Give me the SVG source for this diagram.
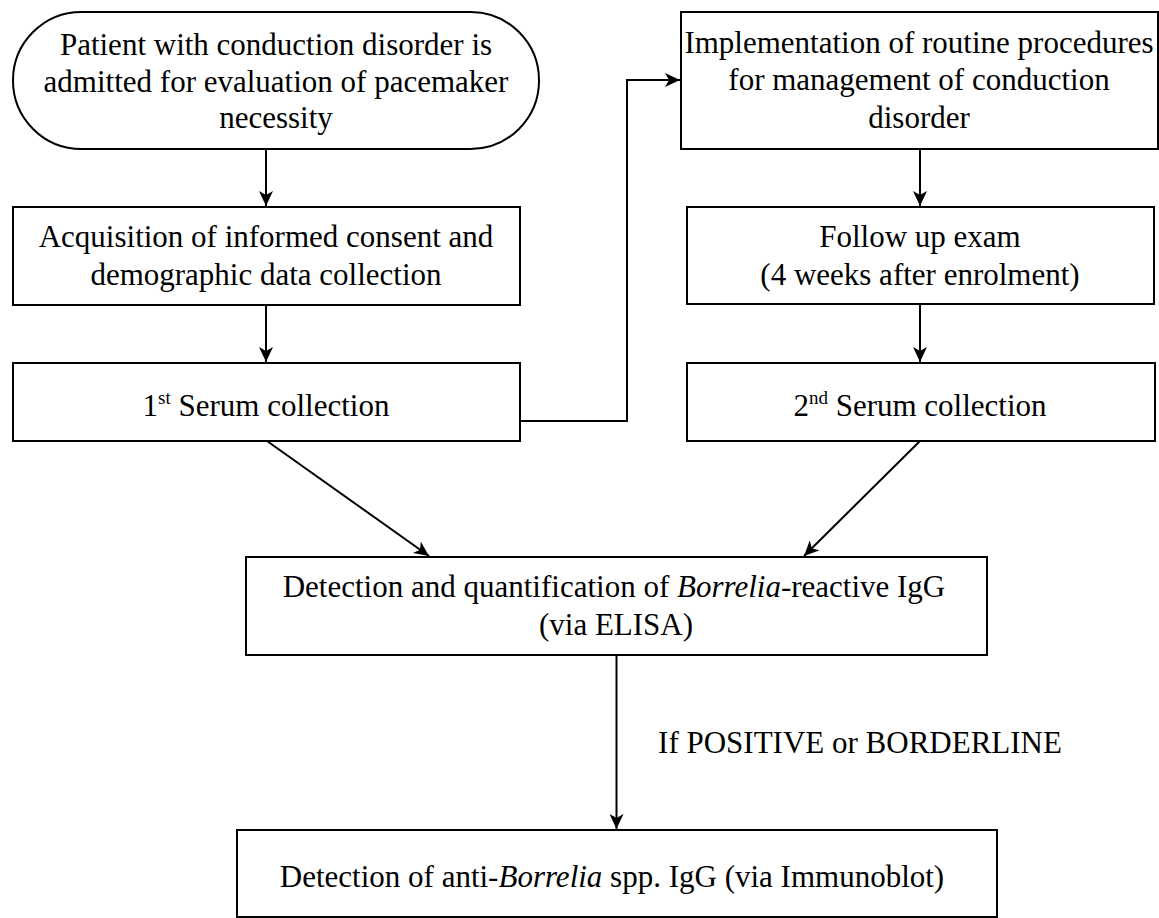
<svg xmlns="http://www.w3.org/2000/svg" width="1159" height="918" viewBox="0 0 1159 918">
<style>
.box{fill:#fff;stroke:#000;stroke-width:2}
.t{font-family:"Liberation Serif","Times New Roman",serif;font-size:31px;fill:#000;text-anchor:middle}
.c{fill:none;stroke:#000;stroke-width:2}
</style>
<defs>
<marker id="ah" markerUnits="userSpaceOnUse" markerWidth="16" markerHeight="14" refX="15" refY="7" orient="auto">
<path d="M0,0 L15,7 L0,14 L4,7 Z" fill="#000"/>
</marker>
</defs>
<rect width="1159" height="918" fill="#fff"/>
<g id="connectors">
<line class="c" x1="266" y1="149" x2="266" y2="206" marker-end="url(#ah)"/>
<line class="c" x1="266" y1="305" x2="266" y2="362" marker-end="url(#ah)"/>
<polyline class="c" points="520,421 627,421 627,80 680,80" marker-end="url(#ah)"/>
<line class="c" x1="920" y1="149" x2="920" y2="206" marker-end="url(#ah)"/>
<line class="c" x1="920" y1="304" x2="920" y2="362" marker-end="url(#ah)"/>
<line class="c" x1="267" y1="441" x2="429" y2="556" marker-end="url(#ah)"/>
<line class="c" x1="920" y1="441" x2="804" y2="556" marker-end="url(#ah)"/>
<line class="c" x1="616.5" y1="655" x2="616.5" y2="829" marker-end="url(#ah)"/>
<text class="t" x="860" y="753">If POSITIVE or BORDERLINE</text>
</g>
<g id="start">
<rect class="box" x="13" y="12" width="526" height="137" rx="68.5" ry="68.5"/>
<text class="t" x="276" y="55">Patient with conduction disorder is</text>
<text class="t" x="276" y="92">admitted for evaluation of pacemaker</text>
<text class="t" x="276" y="128">necessity</text>
</g>
<g id="consent">
<rect class="box" x="13" y="207" width="507" height="98"/>
<text class="t" x="266" y="247">Acquisition of informed consent and</text>
<text class="t" x="266" y="285">demographic data collection</text>
</g>
<g id="serum1">
<rect class="box" x="13" y="363" width="507" height="78"/>
<text class="t" x="266" y="416">1<tspan font-size="19" dy="-12">st</tspan><tspan dy="12"> Serum collection</tspan></text>
</g>
<g id="implementation">
<rect class="box" x="681" y="12" width="477" height="137"/>
<text class="t" x="919" y="53">Implementation of routine procedures</text>
<text class="t" x="919" y="90">for management of conduction</text>
<text class="t" x="919" y="128">disorder</text>
</g>
<g id="followup">
<rect class="box" x="687" y="207" width="467" height="97"/>
<text class="t" x="920" y="247">Follow up exam</text>
<text class="t" x="920" y="285">(4 weeks after enrolment)</text>
</g>
<g id="serum2">
<rect class="box" x="687" y="363" width="468" height="78"/>
<text class="t" x="920" y="416">2<tspan font-size="19" dy="-12">nd</tspan><tspan dy="12"> Serum collection</tspan></text>
</g>
<g id="elisa">
<rect class="box" x="246" y="557" width="741" height="98"/>
<text class="t" x="614" y="597">Detection and quantification of <tspan font-style="italic">Borrelia</tspan>-reactive IgG</text>
<text class="t" x="616" y="635">(via ELISA)</text>
</g>
<g id="immunoblot">
<rect class="box" x="237" y="830" width="760" height="87"/>
<text class="t" x="612" y="887">Detection of anti-<tspan font-style="italic">Borrelia</tspan> spp. IgG (via Immunoblot)</text>
</g>
</svg>
